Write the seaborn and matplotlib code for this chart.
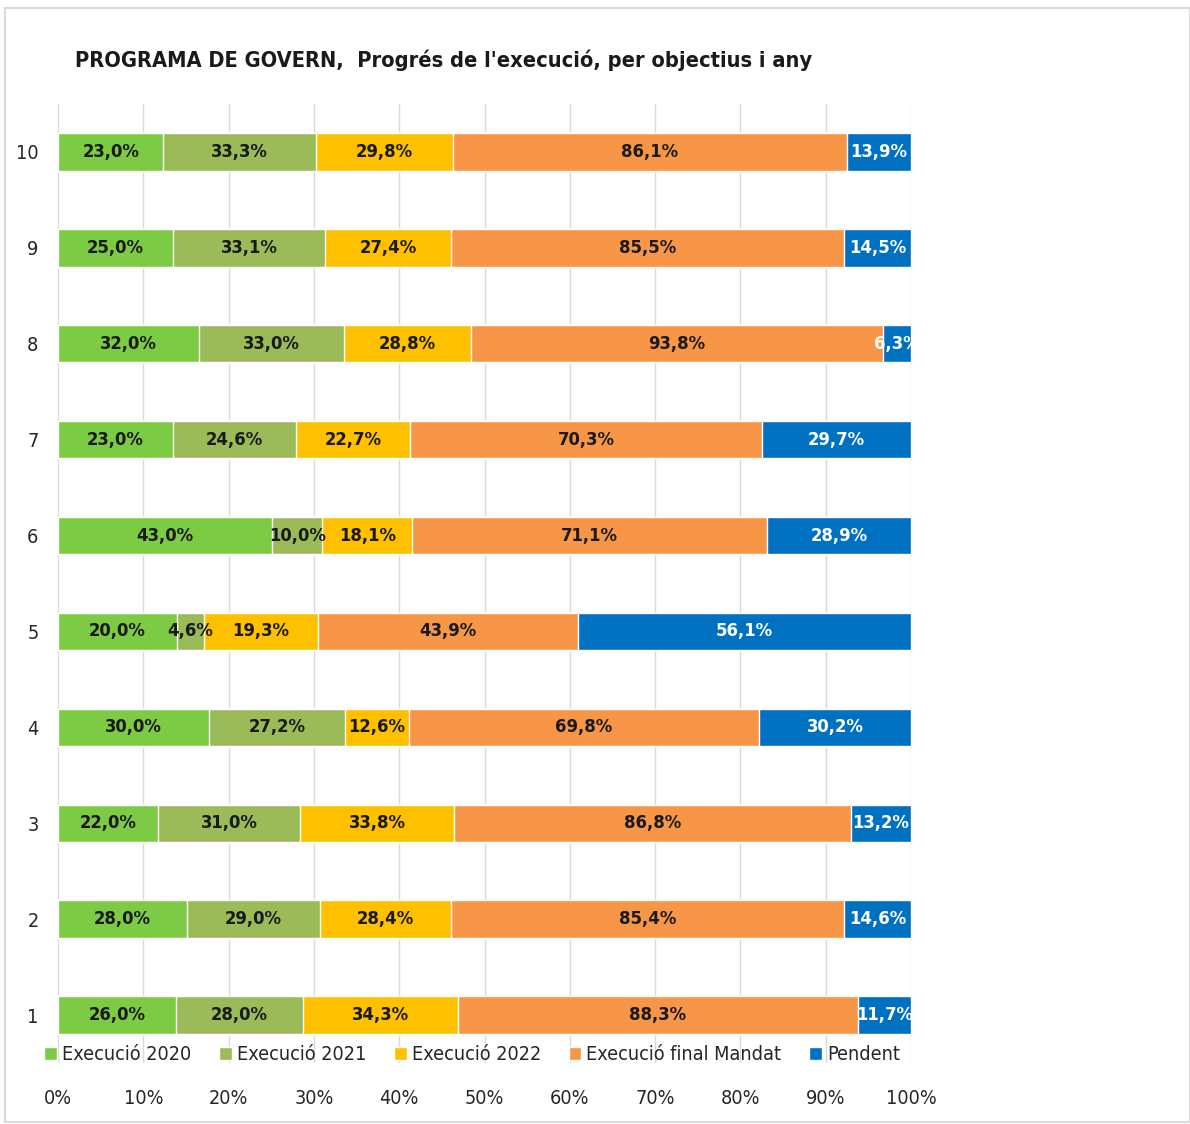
import pandas as pd
import matplotlib.pyplot as plt
import seaborn as sns
from matplotlib import font_manager
from matplotlib.patches import Rectangle

objectius = ['10', '9', '8', '7', '6', '5', '4', '3', '2', '1']
exec_2020 = [23.0, 25.0, 32.0, 23.0, 43.0, 20.0, 30.0, 22.0, 28.0, 26.0]
exec_2021 = [33.3, 33.1, 33.0, 24.6, 10.0, 4.6, 27.2, 31.0, 29.0, 28.0]
exec_2022 = [29.8, 27.4, 28.8, 22.7, 18.1, 19.3, 12.6, 33.8, 28.4, 34.3]
final_mandat = [86.1, 85.5, 93.8, 70.3, 71.1, 43.9, 69.8, 86.8, 85.4, 88.3]
pendent = [13.9, 14.5, 6.3, 29.7, 28.9, 56.1, 30.2, 13.2, 14.6, 11.7]

series = ['Execució 2020', 'Execució 2021', 'Execució 2022', 'Execució final Mandat', 'Pendent']
colors = ['#7DCB45', '#9BBB59', '#FFC000', '#F79646', '#0070C0']
text_colors = ['#1A1A1A', '#1A1A1A', '#1A1A1A', '#1A1A1A', 'white']

df = pd.DataFrame({'objectiu': objectius, series[0]: exec_2020, series[1]: exec_2021,
                   series[2]: exec_2022, series[3]: final_mandat, series[4]: pendent})

# Excel 100% stacked: every row normalised to its own total
totals = df[series].sum(axis=1)
pct = df[series].div(totals, axis=0) * 100
cum = pct.cumsum(axis=1)
start = cum - pct

sns.set_style('white')

# pick a narrow font if there is one (the original is Calibri)
entries = font_manager.fontManager.ttflist
names = {f.name for f in entries}
stretch = 'normal'
scale = 1.0
if 'Liberation Sans Narrow' in names:
    family = 'Liberation Sans Narrow'
    scale = 1.05
elif any(f.name == 'DejaVu Sans' and 'condensed' in str(f.stretch) for f in entries):
    family = 'DejaVu Sans'
    stretch = 'condensed'
    scale = 0.95
else:
    family = 'Liberation Sans'
    scale = 0.85
plt.rcParams['font.family'] = [family, 'DejaVu Sans']
plt.rcParams['font.stretch'] = stretch

fs = 15 * scale

fig = plt.figure(figsize=(11.9, 11.24), dpi=100)
ax = fig.add_axes([58 / 1190, 1 - 1063 / 1124, (911 - 58) / 1190, (1063 - 104) / 1124])

# draw cumulative bars from the back (largest) to the front
for i in reversed(range(len(series))):
    plot_df = pd.DataFrame({'objectiu': objectius, 'val': cum[series[i]]})
    sns.barplot(data=plot_df, x='val', y='objectiu', order=objectius, color=colors[i],
                orient='h', width=0.39, saturation=1, ax=ax, zorder=2, label=series[i])

# data labels
for i, s in enumerate(series):
    for j in range(len(objectius)):
        xc = start[s].iloc[j] + pct[s].iloc[j] / 2
        ax.text(xc, j, f"{df[s].iloc[j]:.1f}%".replace('.', ','), ha='center', va='center',
                fontsize=fs * 0.93, fontweight='bold', color=text_colors[i], zorder=3, clip_on=True)

ax.set_xlim(0, 100)
ax.set_xticks(range(0, 101, 10))
ax.set_xticklabels([f'{t}%' for t in range(0, 101, 10)])
ax.xaxis.grid(True, color='#D9D9D9', lw=1, zorder=0)
ax.set_axisbelow(True)
ax.set_xlabel('')
ax.set_ylabel('')
for sp in ax.spines.values():
    sp.set_visible(False)
ax.tick_params(axis='x', length=0, pad=19, labelsize=fs, labelcolor='#262626')
ax.tick_params(axis='y', length=0, pad=14, labelsize=fs, labelcolor='#262626')

handles, labels = ax.get_legend_handles_labels()
order = [labels.index(s) for s in series]
ax.legend([handles[k] for k in order], series, ncol=5, frameon=False, fontsize=fs,
          loc='center', bbox_to_anchor=(472 / 1190, 1 - 1055 / 1124), bbox_transform=fig.transFigure,
          handlelength=0.65, handleheight=0.65, handletextpad=0.25, columnspacing=1.4, borderaxespad=0)

fig.text(75 / 1190, 1 - 60 / 1124, "PROGRAMA DE GOVERN,  Progrés de l'execució, per objectius i any",
         fontsize=16.5 * scale, fontweight='bold', color='#1A1A1A', va='center', ha='left')

fig.patches.append(Rectangle((5 / 1190, 2 / 1124), 1 - 5 / 1190, 1 - 10 / 1124, transform=fig.transFigure,
                             fill=False, edgecolor='#D9D9D9', lw=1.5))

fig.savefig('out.png', dpi=100)
